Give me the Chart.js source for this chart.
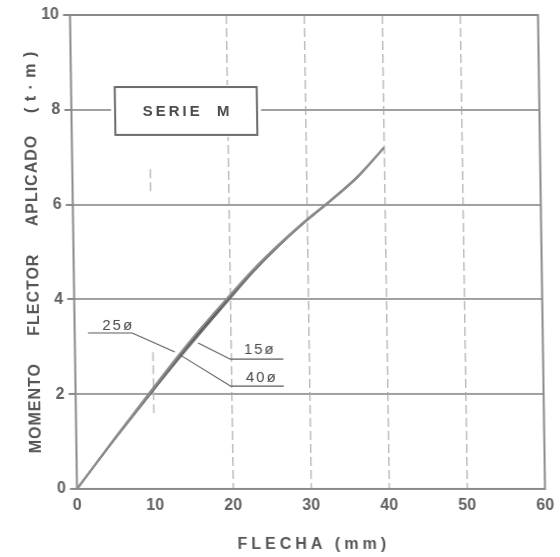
<!DOCTYPE html>
<html>
<head>
<meta charset="utf-8">
<script src="https://cdn.jsdelivr.net/npm/chart.js@4.4.1/dist/chart.umd.min.js"></script>
<style>
  html, body { margin: 0; padding: 0; background: #fff; }
  #wrap { width: 560px; height: 557px; }
  /* the printed sheet sits slightly sheared */
  canvas { transform: skewX(0.85deg); transform-origin: 280px 252px; }
</style>
</head>
<body>
<div id="wrap"><canvas id="chart" width="560" height="557"></canvas></div>
<script>
// Applied bending moment (t·m) levels
const momento = [0, 1.07, 2.0, 2.8, 3.4, 4.0, 4.6, 5.15, 5.65, 6.08, 6.58, 7.2];
// Deflection (mm) of each specimen at those moment levels
const flecha15 = [0, 4.95, 9.35, 13.2, 16.25, 19.5, 22.85, 26.3, 29.75, 33.0, 36.5, 40.0];
const flecha25 = [0, 5.0, 9.5, 13.4, 16.5, 19.7, 23.0, 26.4, 29.8, 33.0, 36.5, 40.0];
const flecha40 = [0, 5.05, 9.6, 13.6, 16.75, 19.9, 23.15, 26.5, 29.9, 33.1, 36.6, 40.0];
const serieNames = ['25ø', '15ø', '40ø'];
const xTicks = [0, 10, 20, 30, 40, 50, 60];
const yTicks = [0, 2, 4, 6, 8, 10];
const xTitle = 'FLECHA (mm)';
const yTitle = 'MOMENTO     FLECTOR     APLICADO    ( t · m )';
const boxTitle = 'SERIE  M';

const toPoints = (xs, ys) => xs.map((v, i) => ({ x: v, y: ys[i] }));

const INK = '#4a4a4a';
const FONT = '"Liberation Sans", Arial, sans-serif';

// Frame, leader lines, labels, caption box and axis titles
const decor = {
  id: 'decor',
  beforeDatasetsDraw(chart) {
    const { ctx, scales: { x, y } } = chart;
    // the 10 mm line only shows in short dashed pieces
    ctx.save();
    ctx.strokeStyle = '#bdbdbd';
    ctx.lineWidth = 1.5;
    ctx.setLineDash([9, 4]);
    [[6.28, 6.77], [1.6, 2.9]].forEach(([a, b]) => {
      ctx.beginPath();
      ctx.moveTo(x.getPixelForValue(10), y.getPixelForValue(a));
      ctx.lineTo(x.getPixelForValue(10), y.getPixelForValue(b));
      ctx.stroke();
    });
    ctx.restore();
  },
  afterDatasetsDraw(chart) {
    const { ctx, chartArea: ca, scales: { x, y } } = chart;
    const px = v => x.getPixelForValue(v);
    const py = v => y.getPixelForValue(v);

    ctx.save();
    // plot frame
    ctx.strokeStyle = '#8a8a8a';
    ctx.lineWidth = 2;
    ctx.strokeRect(ca.left, ca.top, ca.right - ca.left, ca.bottom - ca.top);

    // leader lines for the series names
    const leaders = [
      { name: serieNames[0], at: [5.6, 3.44], path: [[1.7, 3.29], [7.36, 3.29], [12.8, 2.89]] },
      { name: serieNames[1], at: [23.7, 2.93], path: [[15.8, 3.08], [19.9, 2.74], [26.7, 2.74]] },
      { name: serieNames[2], at: [23.9, 2.34], path: [[13.45, 2.83], [19.9, 2.17], [26.7, 2.17]] }
    ];
    ctx.strokeStyle = '#5a5a5a';
    ctx.lineWidth = 1.1;
    ctx.fillStyle = INK;
    ctx.font = '15px ' + FONT;
    ctx.letterSpacing = '2px';
    ctx.textAlign = 'center';
    ctx.textBaseline = 'middle';
    leaders.forEach(l => {
      ctx.beginPath();
      l.path.forEach(([a, b], i) => i ? ctx.lineTo(px(a), py(b)) : ctx.moveTo(px(a), py(b)));
      ctx.stroke();
      ctx.fillText(l.name, px(l.at[0]), py(l.at[1]));
    });

    // caption box
    const bx0 = px(5.6), bx1 = px(23.8), by0 = py(8.48), by1 = py(7.47);
    ctx.fillStyle = '#fff';
    ctx.fillRect(bx0 - 4, by0 - 2, bx1 - bx0 + 8, by1 - by0 + 4);
    ctx.strokeStyle = '#6a6a6a';
    ctx.lineWidth = 2;
    ctx.strokeRect(bx0, by0, bx1 - bx0, by1 - by0);
    ctx.fillStyle = INK;
    ctx.font = 'bold 15px ' + FONT;
    ctx.letterSpacing = '3px';
    ctx.fillText(boxTitle, (bx0 + bx1) / 2 + 1.5, (by0 + by1) / 2 + 1);

    // axis titles
    ctx.fillStyle = '#555';
    ctx.font = 'bold 16px ' + FONT;
    ctx.letterSpacing = '4px';
    ctx.fillText(xTitle, (ca.left + ca.right) / 2 + 2, 545);
    ctx.translate(34, (ca.top + ca.bottom) / 2);
    ctx.rotate(-Math.PI / 2);
    ctx.font = 'bold 16px ' + FONT;
    ctx.letterSpacing = '1px';
    ctx.fillText(yTitle, 0, 0);
    ctx.restore();
  }
};

const lineSet = (label, xs, color, width) => ({
  label,
  data: toPoints(xs, momento),
  showLine: true,
  fill: false,
  borderColor: color,
  borderWidth: width,
  pointRadius: 0,
  cubicInterpolationMode: 'monotone'
});

new Chart(document.getElementById('chart'), {
  type: 'scatter',
  data: {
    datasets: [
      lineSet(serieNames[1], flecha15, '#8c8c8c', 2.2),
      lineSet(serieNames[2], flecha40, '#6e6e6e', 1.6),
      lineSet(serieNames[0], flecha25, '#3a3a3a', 1.6)
    ]
  },
  options: {
    responsive: false,
    animation: false,
    devicePixelRatio: 1,
    layout: { padding: { top: 15, right: 18.5, left: 0, bottom: 0 } },
    plugins: { legend: { display: false }, tooltip: { enabled: false } },
    scales: {
      x: {
        type: 'linear',
        min: 0,
        max: 60,
        afterFit(s) { s.height = 68; },
        afterBuildTicks(s) { s.ticks = xTicks.map(v => ({ value: v })); },
        ticks: { color: '#606060', font: { family: FONT, size: 16, weight: 'bold' }, padding: 7, maxRotation: 0 },
        grid: {
          drawTicks: false,
          lineWidth: 1.5,
          color: c => (c.tick && [20, 30, 40, 50].includes(c.tick.value)) ? '#bdbdbd' : 'rgba(0,0,0,0)'
        },
        border: { display: false, dash: [9, 4] }
      },
      y: {
        type: 'linear',
        min: 0,
        max: 10,
        afterFit(s) { s.width = 73.5; },
        afterBuildTicks(s) { s.ticks = yTicks.map(v => ({ value: v })); },
        ticks: { color: '#606060', font: { family: FONT, size: 16, weight: 'bold' }, padding: 4 },
        grid: {
          drawTicks: true,
          tickLength: 7,
          tickColor: '#8a8a8a',
          lineWidth: 2,
          color: c => (c.tick && c.tick.value > 0 && c.tick.value < 10) ? '#a0a0a0' : 'rgba(0,0,0,0)'
        },
        border: { display: false }
      }
    }
  },
  plugins: [decor]
});
</script>
</body>
</html>
